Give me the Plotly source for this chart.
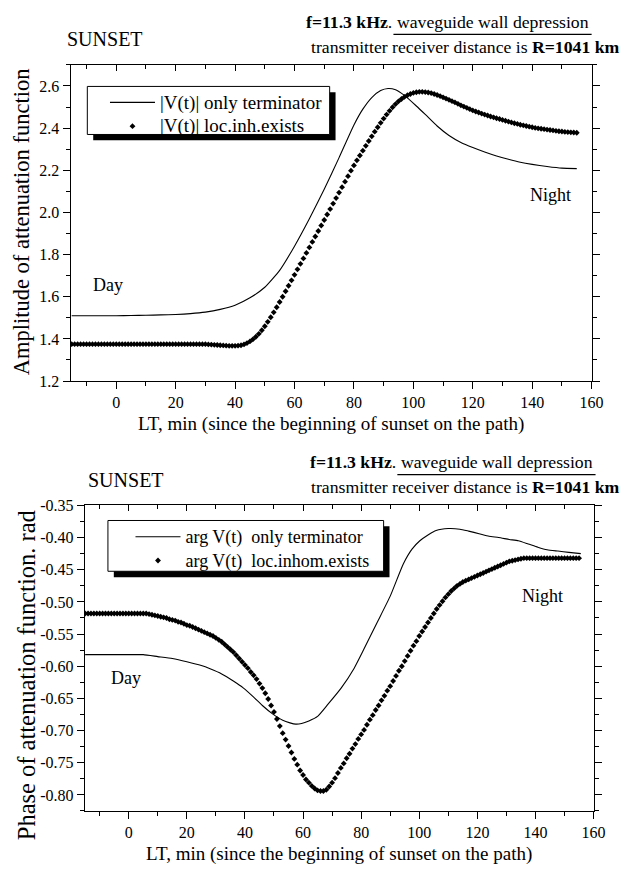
import plotly.graph_objects as go

W, H = 636, 870
FONT = "Liberation Serif"


def px(x):
    return x / W


def py(y):
    return 1 - y / H


# ---------------- data ----------------
# time grid of the dotted (marker) series, minutes
LT_DOTS = list(range(-15, 156))

# |V(t)| loc.inh.exists  (one value per minute, -15 ... 155)
AMP_DOTS = [
    1.375, 1.375, 1.375, 1.375, 1.375, 1.375, 1.375, 1.375, 1.375, 1.375,   # -15..-6
    1.375, 1.375, 1.375, 1.375, 1.375, 1.375, 1.375, 1.375, 1.375, 1.375,   # -5..4
    1.375, 1.375, 1.375, 1.375, 1.375, 1.375, 1.375, 1.375, 1.375, 1.375,   # 5..14
    1.375, 1.375, 1.375, 1.375, 1.375, 1.375, 1.375, 1.375, 1.375, 1.375,   # 15..24
    1.375, 1.375, 1.375, 1.375, 1.375, 1.375,                               # 25..30
    1.374, 1.373, 1.372, 1.371, 1.370, 1.369, 1.368, 1.367, 1.367,          # 31..39
    1.367, 1.368, 1.370, 1.374, 1.380, 1.388, 1.398, 1.410, 1.424, 1.441,   # 40..49
    1.460, 1.481, 1.503, 1.526, 1.550, 1.575, 1.600, 1.626, 1.652, 1.678,   # 50..59
    1.704, 1.730, 1.756, 1.782, 1.808, 1.834, 1.860, 1.886, 1.912, 1.938,   # 60..69
    1.964, 1.990, 2.016, 2.042, 2.068, 2.094, 2.120, 2.146, 2.172, 2.198,   # 70..79
    2.223, 2.247, 2.270, 2.293, 2.316, 2.339, 2.361, 2.383, 2.404, 2.425,   # 80..89
    2.445, 2.464, 2.482, 2.499, 2.514, 2.527, 2.538, 2.548, 2.556, 2.562,   # 90..99
    2.567, 2.570, 2.572, 2.572, 2.571, 2.569, 2.566, 2.562, 2.557, 2.552,   # 100..109
    2.546, 2.540, 2.534, 2.528, 2.522, 2.515, 2.508, 2.502, 2.496, 2.490,   # 110..119
    2.484, 2.479, 2.474, 2.469, 2.464, 2.460, 2.455, 2.451, 2.447, 2.443,   # 120..129
    2.439, 2.435, 2.431, 2.427, 2.423, 2.420, 2.416, 2.413, 2.410, 2.407,   # 130..139
    2.404, 2.401, 2.399, 2.397, 2.395, 2.393, 2.391, 2.389, 2.387, 2.385,   # 140..149
    2.384, 2.382, 2.381, 2.380, 2.379, 2.378,                               # 150..155
]

# |V(t)| only terminator (solid line)
LT_AMP_LINE = [-15, -10, -5, 0, 5, 10, 15, 20, 25, 30, 35, 40, 45, 50, 55, 60, 65, 70,
               75, 80, 83, 86, 89, 91.5, 94, 97, 101, 104, 108, 112, 116, 120, 124,
               128, 132, 136, 140, 145, 150, 155]
AMP_LINE = [1.510, 1.510, 1.510, 1.510, 1.511, 1.512, 1.514, 1.516, 1.520, 1.527,
            1.540, 1.560, 1.595, 1.645, 1.725, 1.840, 1.970, 2.110, 2.260, 2.415,
            2.490, 2.545, 2.578, 2.588, 2.582, 2.555, 2.505, 2.465, 2.410, 2.365,
            2.332, 2.308, 2.287, 2.268, 2.252, 2.238, 2.228, 2.218, 2.210, 2.208]

# arg V(t) loc.inhom.exists (one value per minute, -15 ... 155)
PHASE_DOTS = [
    -0.518, -0.518, -0.518, -0.518, -0.518, -0.518, -0.518, -0.518, -0.518, -0.518,  # -15..-6
    -0.518, -0.518, -0.518, -0.518, -0.518, -0.518, -0.518, -0.518, -0.518, -0.518,  # -5..4
    -0.518,                                                                          # 5
    -0.518, -0.519, -0.520, -0.521, -0.522, -0.523, -0.524, -0.525, -0.527, -0.528,  # 6..15
    -0.529, -0.531, -0.532, -0.534, -0.536, -0.537, -0.539, -0.541, -0.543, -0.545,  # 16..25
    -0.547, -0.549, -0.551, -0.553, -0.556, -0.559, -0.562, -0.566, -0.570, -0.574,  # 26..35
    -0.578, -0.583, -0.588, -0.593, -0.598, -0.603, -0.609, -0.614, -0.620, -0.627,  # 36..45
    -0.634, -0.642, -0.651, -0.661, -0.671, -0.682, -0.693, -0.704, -0.714, -0.724,  # 46..55
    -0.734, -0.744, -0.753, -0.762, -0.769, -0.776, -0.781, -0.786, -0.790, -0.793,  # 56..65
    -0.794, -0.794, -0.792, -0.787, -0.781, -0.774, -0.766, -0.758, -0.751, -0.743,  # 66..75
    -0.736, -0.728, -0.721, -0.713, -0.706, -0.699, -0.691, -0.683, -0.676, -0.668,  # 76..85
    -0.661, -0.653, -0.646, -0.638, -0.631, -0.623, -0.615, -0.607, -0.600, -0.592,  # 86..95
    -0.584, -0.576, -0.568, -0.561, -0.553, -0.546, -0.539, -0.532, -0.525, -0.518,  # 96..105
    -0.511, -0.505, -0.499, -0.493, -0.488, -0.483, -0.479, -0.475, -0.472, -0.469,  # 106..115
    -0.467, -0.465, -0.463, -0.461, -0.459, -0.457, -0.455, -0.453, -0.451, -0.449,  # 116..125
    -0.447, -0.445, -0.443, -0.441, -0.439, -0.437, -0.436, -0.435, -0.434, -0.433,  # 126..135
    -0.432, -0.432, -0.432, -0.432, -0.432, -0.432, -0.432, -0.432, -0.432, -0.432,  # 136..145
    -0.432, -0.432, -0.432, -0.432, -0.432, -0.432, -0.432, -0.432, -0.432, -0.432,  # 146..155
]

# arg V(t) only terminator (solid line)
LT_PHASE_LINE = [-15, -10, -5, 0, 5, 10, 15, 20, 25, 28, 32, 36, 39.5, 43, 46, 49.5, 53,
                 55.5, 57.5, 59.5, 62, 65, 68.6, 73.1, 77.6, 81, 85.5, 90, 94.5, 97.5,
                 100.2, 103, 105.8, 110, 114, 117, 120.6, 124, 127.3, 131, 134.1, 137.5,
                 140.8, 144, 147.7, 151.5, 155.6]
PHASE_LINE = [-0.582, -0.582, -0.582, -0.582, -0.582, -0.585, -0.588, -0.593, -0.599,
              -0.604, -0.612, -0.623, -0.634, -0.648, -0.661, -0.674, -0.684, -0.688,
              -0.690, -0.689, -0.685, -0.678, -0.659, -0.634, -0.603, -0.573, -0.532,
              -0.491, -0.441, -0.418, -0.405, -0.396, -0.389, -0.386, -0.387, -0.390,
              -0.394, -0.398, -0.400, -0.403, -0.405, -0.410, -0.415, -0.419, -0.421,
              -0.423, -0.425]

X_TICKS = [0, 20, 40, 60, 80, 100, 120, 140, 160]
AMP_TICKS = [1.2, 1.4, 1.6, 1.8, 2.0, 2.2, 2.4, 2.6]
PHASE_TICKS = [-0.80, -0.75, -0.70, -0.65, -0.60, -0.55, -0.50, -0.45, -0.40, -0.35]
PHASE_TICK_TEXT = ["-0.80", "-0.75", "-0.70", "-0.65", "-0.60", "-0.55", "-0.50",
                   "-0.45", "-0.40", "-0.35"]

assert len(AMP_DOTS) == len(LT_DOTS)
assert len(PHASE_DOTS) == len(LT_DOTS)
assert len(AMP_LINE) == len(LT_AMP_LINE)
assert len(PHASE_LINE) == len(LT_PHASE_LINE)

# ---------------- figure ----------------
fig = go.Figure()

line_style = dict(color="black", width=1.1, shape="spline", smoothing=0.5)
dot_style = dict(symbol="diamond", size=4.5, color="black")


def big(txt, size):
    return '<span style="font-size:%dpx">%s</span>' % (size, txt)


fig.add_trace(go.Scatter(x=LT_AMP_LINE, y=AMP_LINE, mode="lines", line=line_style,
                         name=big("|V(t)| only terminator", 19), xaxis="x", yaxis="y",
                         legend="legend"))
fig.add_trace(go.Scatter(x=LT_DOTS, y=AMP_DOTS, mode="markers", marker=dot_style,
                         name=big("|V(t)| loc.inh.exists", 19), xaxis="x", yaxis="y",
                         legend="legend"))
fig.add_trace(go.Scatter(x=LT_PHASE_LINE, y=PHASE_LINE, mode="lines", line=line_style,
                         name=big("arg V(t)\u00a0 only terminator", 18),
                         xaxis="x2", yaxis="y2", legend="legend2"))
fig.add_trace(go.Scatter(x=LT_DOTS, y=PHASE_DOTS, mode="markers", marker=dot_style,
                         name=big("arg V(t)\u00a0 loc.inhom.exists", 18),
                         xaxis="x2", yaxis="y2", legend="legend2"))
# carriers for the top frame axes
fig.add_trace(go.Scatter(x=[], y=[], xaxis="x3", yaxis="y", showlegend=False,
                         hoverinfo="skip"))
fig.add_trace(go.Scatter(x=[], y=[], xaxis="x4", yaxis="y2", showlegend=False,
                         hoverinfo="skip"))

tickfont = dict(family=FONT, size=16, color="black")
base = dict(showline=True, linecolor="black", linewidth=1.2, showgrid=False,
            zeroline=False, ticks="outside", ticklen=7, tickwidth=1.2,
            tickcolor="black", tickfont=tickfont)
minor_out = dict(ticks="outside", ticklen=4, tickwidth=1.2, tickcolor="black")
minor_in = dict(ticks="inside", ticklen=4, tickwidth=1.2, tickcolor="black")

X1_DOM = [px(72), px(603)]
X2_DOM = [px(86.5), px(605)]
Y1_DOM = [py(380.5), py(58)]
Y2_DOM = [py(819), py(507.3)]
X1_RANGE = [-15.35, 160]
X2_RANGE = [-15.1, 160]
xtitle = "LT, min (since the beginning of sunset on the path)"

fig.update_layout(
    width=W, height=H,
    margin=dict(l=0, r=0, t=0, b=0),
    paper_bgcolor="white", plot_bgcolor="white",
    font=dict(family=FONT, color="black"),
    xaxis=dict(base, domain=X1_DOM, range=X1_RANGE, anchor="y",
               tickmode="array", tickvals=X_TICKS,
               minor=dict(minor_out, dtick=10, tick0=0),
               title=dict(text=xtitle, font=dict(family=FONT, size=19), standoff=6)),
    xaxis3=dict(base, domain=X1_DOM, range=X1_RANGE, anchor="y", overlaying="x",
                side="top", ticks="inside", ticklen=6, showticklabels=False,
                tickmode="array", tickvals=X_TICKS,
                minor=dict(minor_in, dtick=10, tick0=0)),
    yaxis=dict(base, domain=Y1_DOM, range=[1.2, 2.7], anchor="x", mirror="ticks",
               tickmode="array", tickvals=AMP_TICKS, tickformat=".1f",
               minor=dict(minor_out, dtick=0.1, tick0=1.2)),
    xaxis2=dict(base, domain=X2_DOM, range=X2_RANGE, anchor="y2",
                tickmode="array", tickvals=X_TICKS,
                minor=dict(minor_out, dtick=10, tick0=0),
                title=dict(text=xtitle, font=dict(family=FONT, size=19), standoff=6)),
    xaxis4=dict(base, domain=X2_DOM, range=X2_RANGE, anchor="y2", overlaying="x2",
                side="top", ticks="inside", ticklen=6, showticklabels=False,
                tickmode="array", tickvals=X_TICKS,
                minor=dict(minor_in, dtick=10, tick0=0)),
    yaxis2=dict(base, domain=Y2_DOM, range=[-0.825, -0.35], anchor="x2", mirror="ticks",
                tickmode="array", tickvals=PHASE_TICKS, ticktext=PHASE_TICK_TEXT,
                minor=dict(minor_out, dtick=0.025, tick0=-0.8)),
    legend=dict(x=px(107), y=py(79), xanchor="left", yanchor="top",
                bgcolor="rgba(0,0,0,0)", borderwidth=0, itemwidth=45,
                font=dict(family=FONT, size=16, color="black"), tracegroupgap=0),
    legend2=dict(x=px(133), y=py(522), xanchor="left", yanchor="top",
                 bgcolor="rgba(0,0,0,0)", borderwidth=0, itemwidth=45,
                 font=dict(family=FONT, size=16, color="black"), tracegroupgap=0),
    showlegend=True,
)

shapes = []
for (x0, y0, x1, y1) in [(89, 80, 336, 129), (110, 522.7, 391, 574.5)]:
    shapes.append(dict(type="rect", xref="paper", yref="paper",
                       x0=px(x0 + 6), x1=px(x1 + 6), y0=py(y0 + 6), y1=py(y1 + 6),
                       fillcolor="black", line=dict(width=0), layer="above"))
    shapes.append(dict(type="rect", xref="paper", yref="paper",
                       x0=px(x0), x1=px(x1), y0=py(y0), y1=py(y1),
                       fillcolor="white", line=dict(color="black", width=1),
                       layer="above"))
# underline of "waveguide wall depression"
for yy, xa, xb in [(27, 401, 603), (476, 405, 607)]:
    shapes.append(dict(type="line", xref="paper", yref="paper",
                       x0=px(xa), x1=px(xb), y0=py(yy), y1=py(yy),
                       line=dict(color="black", width=1.2)))
fig.update_layout(shapes=shapes)


def note(text, x, y, size=18, xanchor="left", angle=0):
    fig.add_annotation(text=text, x=px(x), y=py(y), xref="paper", yref="paper",
                       xanchor=xanchor, yanchor="middle", showarrow=False,
                       textangle=angle,
                       font=dict(family=FONT, size=size, color="black"))


for dy, xs in [(0, 66), (449, 88)]:
    note("SUNSET", xs, 32 + dy, size=20)
    note("<b>f=11.3 kHz</b>.", 310 + (dy > 0) * 4, 14 + dy, size=17.7)
    note("waveguide wall depression", 403 + (dy > 0) * 4, 14 + dy, size=17.7)
    note("transmitter receiver distance is <b>R=1041 km</b>", 633, 40 + dy,
         size=17.7, xanchor="right")

# y-axis titles
note("Amplitude of attenuation function", 22, 218, size=22.5, xanchor="center",
     angle=-90)
note("Phase of attenuation function. rad", 27, 680, size=24.5, xanchor="center",
     angle=-90)

note("Day", 110, 283, size=18, xanchor="center")
note("Night", 561, 191, size=18, xanchor="center")
note("Day", 128, 683, size=18, xanchor="center")
note("Night", 553, 600, size=18, xanchor="center")

fig.write_html("out.html")
